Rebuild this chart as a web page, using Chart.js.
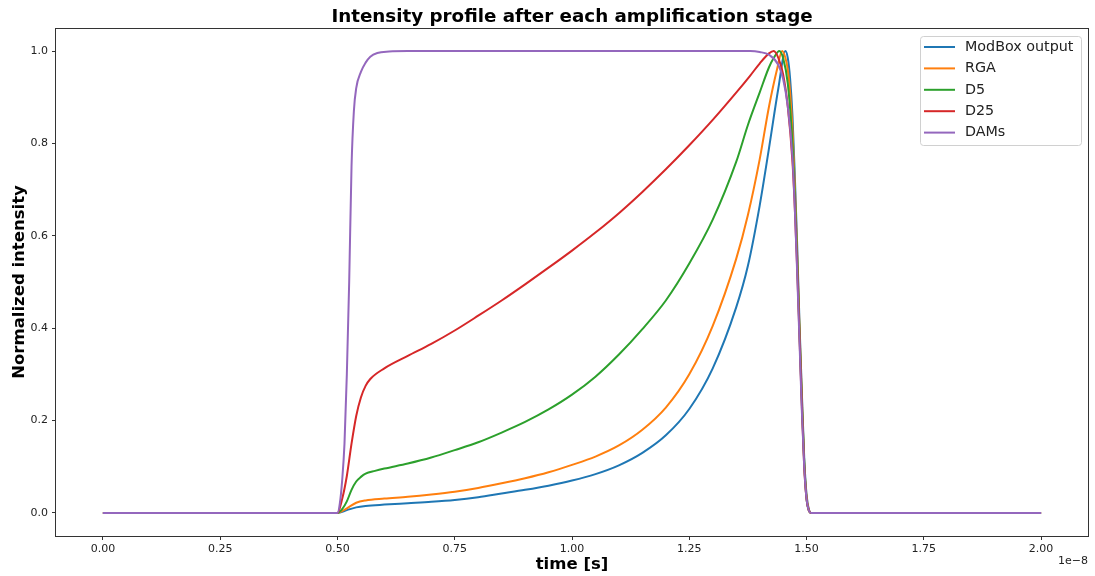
<!DOCTYPE html>
<html>
<head>
<meta charset="utf-8">
<script src="https://cdn.jsdelivr.net/npm/chart.js@4/dist/chart.umd.min.js"></script>
<style>
  html, body { margin: 0; padding: 0; background: #fff; }
  #wrap { width: 1095px; height: 576px; }
</style>
</head>
<body>
<div id="wrap"><canvas id="pulseChart" width="1095" height="576"></canvas></div>
<script>
// time axis in units of 1e-8 s
const chartTitle = 'Intensity profile after each amplification stage';
const seriesNames = ['ModBox output', 'RGA', 'D5', 'D25', 'DAMs'];
const seriesColors = ['#1f77b4', '#ff7f0e', '#2ca02c', '#d62728', '#9467bd'];

const xTicks = [0, 0.25, 0.5, 0.75, 1.0, 1.25, 1.5, 1.75, 2.0];
const yTicks = [0, 0.2, 0.4, 0.6, 0.8, 1.0];

const modboxT = [0, 0.5, 0.52, 0.54, 0.56, 0.6, 0.65, 0.7, 0.75, 0.8, 0.85, 0.9, 0.95, 1.0, 1.05, 1.1, 1.15, 1.2, 1.25, 1.3, 1.35, 1.375, 1.4, 1.42, 1.44, 1.455, 1.46, 1.465, 1.47, 1.475, 1.48, 1.485, 1.49, 1.495, 1.5, 1.505, 1.51, 2.0];
const modboxY = [0, 0, 0.006, 0.012, 0.015, 0.018, 0.021, 0.024, 0.028, 0.034, 0.042, 0.05, 0.059, 0.07, 0.084, 0.103, 0.13, 0.168, 0.225, 0.313, 0.445, 0.535, 0.665, 0.79, 0.92, 1.0, 0.985, 0.94, 0.86, 0.73, 0.58, 0.41, 0.26, 0.12, 0.04, 0.007, 0, 0];

const rgaT = [0, 0.5, 0.52, 0.54, 0.56, 0.6, 0.65, 0.7, 0.75, 0.8, 0.85, 0.9, 0.95, 1.0, 1.05, 1.1, 1.15, 1.2, 1.25, 1.3, 1.35, 1.375, 1.4, 1.42, 1.437, 1.448, 1.455, 1.46, 1.465, 1.47, 1.475, 1.48, 1.485, 1.49, 1.495, 1.5, 1.505, 1.51, 2.0];
const rgaY = [0, 0, 0.01, 0.022, 0.027, 0.031, 0.035, 0.04, 0.046, 0.054, 0.064, 0.075, 0.088, 0.104, 0.122, 0.146, 0.18, 0.228, 0.3, 0.405, 0.55, 0.645, 0.765, 0.88, 0.96, 1.0, 0.985, 0.96, 0.91, 0.83, 0.71, 0.56, 0.4, 0.25, 0.11, 0.035, 0.006, 0, 0];

const d5T = [0, 0.5, 0.51, 0.52, 0.53, 0.54, 0.55, 0.56, 0.58, 0.6, 0.65, 0.7, 0.75, 0.8, 0.85, 0.9, 0.95, 1.0, 1.05, 1.1, 1.15, 1.2, 1.25, 1.3, 1.35, 1.375, 1.4, 1.42, 1.43, 1.442, 1.45, 1.46, 1.47, 1.475, 1.48, 1.485, 1.49, 1.495, 1.5, 1.505, 1.51, 2.0];
const d5Y = [0, 0, 0.008, 0.025, 0.05, 0.068, 0.078, 0.085, 0.091, 0.096, 0.107, 0.12, 0.136, 0.153, 0.174, 0.197, 0.224, 0.256, 0.295, 0.343, 0.398, 0.46, 0.54, 0.635, 0.76, 0.84, 0.91, 0.965, 0.985, 1.0, 0.985, 0.93, 0.8, 0.69, 0.55, 0.39, 0.24, 0.11, 0.03, 0.005, 0, 0];

const d25T = [0, 0.5, 0.51, 0.52, 0.53, 0.54, 0.55, 0.56, 0.57, 0.6, 0.65, 0.7, 0.75, 0.8, 0.85, 0.9, 0.95, 1.0, 1.05, 1.1, 1.15, 1.2, 1.25, 1.3, 1.35, 1.38, 1.4, 1.42, 1.43, 1.44, 1.45, 1.46, 1.47, 1.475, 1.48, 1.485, 1.49, 1.495, 1.5, 1.505, 1.51, 2.0];
const d25Y = [0, 0, 0.03, 0.08, 0.15, 0.21, 0.25, 0.275, 0.29, 0.313, 0.34, 0.366, 0.395, 0.427, 0.46, 0.495, 0.531, 0.568, 0.607, 0.649, 0.695, 0.744, 0.796, 0.851, 0.91, 0.947, 0.973, 0.995, 1.0, 0.985, 0.95, 0.88, 0.76, 0.66, 0.53, 0.38, 0.23, 0.1, 0.03, 0.005, 0, 0];

const damsT = [0, 0.5, 0.505, 0.51, 0.515, 0.52, 0.525, 0.53, 0.535, 0.54, 0.55, 0.56, 0.57, 0.585, 0.61, 0.65, 1.0, 1.38, 1.4, 1.42, 1.44, 1.45, 1.46, 1.47, 1.475, 1.48, 1.485, 1.49, 1.495, 1.5, 1.505, 1.51, 2.0];
const damsY = [0, 0, 0.02, 0.07, 0.15, 0.3, 0.5, 0.75, 0.87, 0.92, 0.955, 0.975, 0.988, 0.996, 0.999, 1.0, 1.0, 1.0, 0.998, 0.992, 0.97, 0.94, 0.88, 0.77, 0.66, 0.52, 0.37, 0.22, 0.1, 0.03, 0.005, 0, 0];

const allT = [modboxT, rgaT, d5T, d25T, damsT];
const allY = [modboxY, rgaY, d5Y, d25Y, damsY];

function toPoints(ts, ys) {
    let pts = [];
    for (let i = 0; i < ts.length; i++) {
        pts.push({x: ts[i], y: ys[i]});
    }
    return pts;
}

let datasets = [];
for (let i = 0; i < seriesNames.length; i++) {
    datasets.push({
        label: seriesNames[i],
        data: toPoints(allT[i], allY[i]),
        borderColor: seriesColors[i],
        backgroundColor: seriesColors[i],
        borderWidth: 2,
        pointRadius: 0,
        cubicInterpolationMode: 'monotone',
        order: seriesNames.length - i
    });
}

// title over the plot area, frame on all four sides, legend box, offset text
const extras = {
    id: 'extras',
    afterDraw(chart) {
        const ctx = chart.ctx;
        const a = chart.chartArea;
        ctx.save();
        ctx.strokeStyle = '#333';
        ctx.lineWidth = 1;
        ctx.strokeRect(Math.round(a.left) - 0.5, Math.round(a.top) + 0.5, Math.round(a.right - a.left) + 1, Math.round(a.bottom - a.top));

        ctx.fillStyle = '#000';
        ctx.font = 'bold 18.3px "DejaVu Sans"';
        ctx.textAlign = 'center';
        ctx.textBaseline = 'middle';
        ctx.fillText(chartTitle, (a.left + a.right) / 2, 17);

        // legend
        const bx = 920, by = 36, bw = 161, bh = 109;
        ctx.fillStyle = 'rgba(255,255,255,0.8)';
        ctx.strokeStyle = '#d0d0d0';
        ctx.beginPath();
        ctx.roundRect(bx + 0.5, by + 0.5, bw, bh, 3);
        ctx.fill();
        ctx.stroke();
        ctx.font = '14.3px "DejaVu Sans"';
        ctx.textBaseline = 'middle';
        ctx.textAlign = 'left';
        chart.data.datasets.forEach(function (ds, i) {
            let yy = 47 + i * 21.4;
            ctx.strokeStyle = ds.borderColor;
            ctx.lineWidth = 2;
            ctx.beginPath();
            ctx.moveTo(924, yy);
            ctx.lineTo(955, yy);
            ctx.stroke();
            ctx.fillStyle = '#222';
            ctx.fillText(ds.label, 965, yy);
        });

        ctx.font = '11px "DejaVu Sans"';
        ctx.textAlign = 'right';
        ctx.fillStyle = '#222';
        ctx.fillText('1e\u22128', 1088, 561);
        ctx.restore();
    }
};

const ctx = document.getElementById('pulseChart').getContext('2d');
new Chart(ctx, {
    type: 'line',
    data: { datasets: datasets },
    plugins: [extras],
    options: {
        responsive: false,
        animation: false,
        devicePixelRatio: 1,
        layout: { padding: { left: 0, right: 7, top: 28, bottom: 0 } },
        plugins: {
            legend: { display: false },
            tooltip: { enabled: false },
            title: { display: false }
        },
        scales: {
            x: {
                type: 'linear',
                min: -0.1,
                max: 2.1,
                afterFit: function (scale) { scale.height = 40; },
                afterBuildTicks: function (scale) {
                    scale.ticks = xTicks.map(v => ({ value: v }));
                },
                ticks: {
                    color: '#222',
                    font: { family: 'DejaVu Sans', size: 11 },
                    padding: 3,
                    maxRotation: 0,
                    callback: v => v.toFixed(2)
                },
                grid: { display: true, drawOnChartArea: false, drawTicks: true, tickLength: 4, color: '#333' },
                border: { display: false },
                title: {
                    display: true,
                    text: 'time [s]',
                    color: '#000',
                    font: { family: 'DejaVu Sans', size: 16.5, weight: 'bold' },
                    padding: { top: 0, bottom: 1 }
                }
            },
            y: {
                type: 'linear',
                min: -0.05,
                max: 1.05,
                afterFit: function (scale) { scale.width = 56; },
                afterBuildTicks: function (scale) {
                    scale.ticks = yTicks.map(v => ({ value: v }));
                },
                ticks: {
                    color: '#222',
                    font: { family: 'DejaVu Sans', size: 11 },
                    padding: 4,
                    callback: v => v.toFixed(1)
                },
                grid: { display: true, drawOnChartArea: false, drawTicks: true, tickLength: 4, color: '#333' },
                border: { display: false },
                title: {
                    display: true,
                    text: 'Normalized intensity',
                    color: '#000',
                    font: { family: 'DejaVu Sans', size: 16.5, weight: 'bold' },
                    padding: { top: 10, bottom: 0 }
                }
            }
        }
    }
});
</script>
</body>
</html>
